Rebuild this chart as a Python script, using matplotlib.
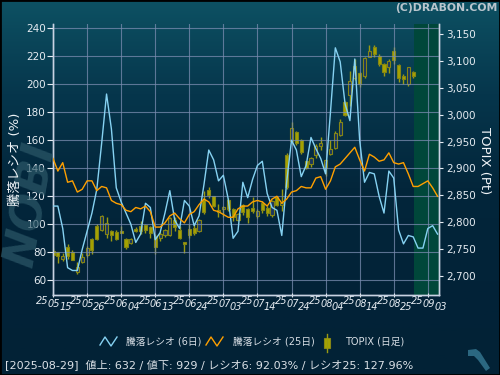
import numpy as np
import matplotlib
matplotlib.use('Agg')
import matplotlib.pyplot as plt
import matplotlib.transforms as mtransforms
from matplotlib.patches import Rectangle, Polygon
from matplotlib.lines import Line2D
from matplotlib.colors import LinearSegmentedColormap

plt.rcParams['font.family'] = ['DejaVu Sans', 'Noto Sans CJK JP']

# 騰落レシオ (6日 / 25日), one value per trading day from 25/05/15
ratio6 = [113, 113, 97, 69, 67, 67, 82, 95, 108, 125, 158, 193, 168, 126, 116, 108,
          100, 87, 93, 115, 112, 89, 94, 108, 124, 103, 97, 117, 113, 99, 106, 128,
          153, 146, 131, 135, 118, 90, 95, 130, 119, 132, 142, 145, 122, 112, 110, 92,
          130, 160, 153, 134, 142, 162, 154, 147, 136, 180, 226, 216, 186, 174, 218, 160,
          130, 137, 136, 120, 108, 138, 133, 96, 86, 92, 91, 83, 83, 97, 99, 93]
ratio25 = [147, 138, 144, 130, 131, 123, 125, 131, 131, 124, 127, 126, 117, 115, 114, 110,
           109, 112, 111, 113, 109, 98, 98, 101, 106, 108, 104, 101, 107, 109, 114, 118,
           116, 110, 109, 107, 105, 105, 111, 113, 113, 116, 117, 116, 113, 118, 120, 115,
           118, 123, 124, 127, 126, 126, 133, 134, 125, 131, 141, 143, 147, 151, 155, 146,
           138, 150, 148, 145, 146, 151, 144, 143, 144, 136, 127, 127, 129, 131, 126, 120]

# TOPIX daily candles
t_open = [2746, 2744, 2731, 2754, 2745, 2706, 2725, 2739, 2768, 2793, 2786, 2778, 2784, 2782, 2784,
          2768, 2761, 2787, 2793, 2794, 2790, 2774, 2771, 2775, 2775, 2804, 2785, 2762, 2787, 2789,
          2783, 2841, 2860, 2848, 2819, 2824, 2841, 2825, 2804, 2832, 2824, 2826, 2812, 2835, 2826,
          2814, 2847, 2832, 2925, 2951, 2967, 2953, 2913, 2909, 2925, 2942, 2900, 2926, 2938, 2962,
          3023, 3036, 3069, 3077, 3072, 3108, 3126, 3110, 3094, 3088, 3118, 3092, 3072, 3058, 3080]
t_high = [2751, 2745, 2742, 2759, 2747, 2725, 2742, 2756, 2771, 2797, 2814, 2810, 2785, 2785, 2793,
          2771, 2771, 2790, 2802, 2797, 2793, 2778, 2781, 2787, 2809, 2809, 2793, 2763, 2797, 2796,
          2806, 2858, 2866, 2849, 2833, 2829, 2845, 2827, 2816, 2834, 2826, 2846, 2824, 2840, 2830,
          2841, 2849, 2861, 2928, 2986, 2970, 2955, 2914, 2922, 2945, 2959, 2917, 2953, 2970, 2992,
          3025, 3082, 3103, 3079, 3107, 3130, 3130, 3114, 3097, 3103, 3126, 3094, 3076, 3089, 3082]
t_low = [2731, 2723, 2727, 2731, 2729, 2704, 2724, 2735, 2740, 2766, 2784, 2771, 2764, 2766, 2779,
         2750, 2759, 2781, 2778, 2779, 2771, 2740, 2764, 2773, 2774, 2784, 2768, 2743, 2771, 2776,
         2781, 2815, 2845, 2828, 2810, 2809, 2821, 2802, 2802, 2814, 2799, 2816, 2807, 2816, 2812,
         2810, 2830, 2820, 2861, 2946, 2944, 2927, 2898, 2903, 2920, 2934, 2886, 2925, 2936, 2961,
         2998, 3017, 3064, 3052, 3069, 3107, 3107, 3091, 3072, 3077, 3095, 3060, 3058, 3054, 3069]
t_close = [2739, 2737, 2737, 2736, 2730, 2717, 2735, 2752, 2748, 2768, 2812, 2799, 2775, 2768, 2780,
           2754, 2768, 2784, 2784, 2785, 2779, 2754, 2778, 2785, 2807, 2790, 2770, 2759, 2776, 2779,
           2804, 2818, 2851, 2830, 2823, 2828, 2824, 2809, 2815, 2818, 2810, 2821, 2821, 2822, 2817,
           2840, 2832, 2836, 2866, 2976, 2948, 2930, 2901, 2919, 2942, 2947, 2915, 2936, 2965, 2986,
           2999, 3063, 3090, 3057, 3105, 3119, 3113, 3095, 3080, 3100, 3102, 3069, 3066, 3088, 3072]

tick_pos = [0, 7, 14, 21, 28, 35, 42, 49, 56, 63, 70, 77]
tick_labels = ['25/05/15', '25/05/26', '25/06/04', '25/06/13', '25/06/24', '25/07/03',
               '25/07/14', '25/07/24', '25/08/04', '25/08/14', '25/08/25', '25/09/03']

status = '[2025-08-29]  値上: 632 / 値下: 929 / レシオ6: 92.03% / レシオ25: 127.96%'

W, H = 500, 375
fig = plt.figure(figsize=(5, 3.75), dpi=100)

def fpx(x, y):
    return x / W, 1 - y / H

# background gradient
bg = fig.add_axes([0, 0, 1, 1], zorder=-10)
grad = np.linspace(0, 1, 256).reshape(-1, 1)
cmap = LinearSegmentedColormap.from_list('bg', ['#0d5163', '#06364c', '#03263b', '#022338', '#022236'])
bg.imshow(grad, aspect='auto', cmap=cmap, extent=[0, 1, 0, 1], origin='upper')
bg.set_xlim(0, 1)
bg.set_ylim(0, 1)
bg.axis('off')

# faint logo at left
fig.text(*fpx(31, 205), 'NOBI', rotation=80, fontsize=32, weight='bold', style='italic',
         color='#2c5868', ha='center', va='center', alpha=0.7)

rect = [53 / W, 1 - 295 / H, (439 - 53) / W, (295 - 24) / H]
ax = fig.add_axes(rect)
ax2 = ax.twinx()
ax.set_zorder(3)
ax2.set_zorder(2)
ax.patch.set_visible(False)
ax2.patch.set_facecolor('#1b3660')

n = len(ratio6)
ax.set_xlim(0, 79.3)
ax.set_ylim(49.5, 243)
ax2.set_ylim(2664, 3169)

# future zone
ax2.axvspan(74.2, 80, color='#00473a', zorder=0, lw=0)

# candles
up_col = '#a6a400'
edge_col = '#858515'
for i in range(len(t_open)):
    o, h, l, c = t_open[i], t_high[i], t_low[i], t_close[i]
    ax2.vlines(i, l, h, color='#9a9a12', lw=1, zorder=3)
    lo, hi = min(o, c), max(o, c)
    if hi - lo < 2:
        hi = lo + 2
    filled = c < o
    ax2.add_patch(Rectangle((i - 0.32, lo), 0.64, hi - lo,
                            facecolor=up_col if filled else '#1b3660',
                            edgecolor=edge_col, lw=0.8, zorder=4))

# ratio lines
x = np.arange(n)
ax.plot(x, ratio6, color='#86d2f2', lw=1.0, zorder=5)
ax.plot(x, ratio25, color='#ffa000', lw=1.0, zorder=5)

# grid / ticks
ax.set_xticks(tick_pos)
ax.set_yticks(range(60, 241, 20))
ax.grid(True, color='#7a8cb0', lw=0.8, alpha=0.75)
ax2.grid(False)
ax2.set_yticks(range(2700, 3151, 50))
ax2.set_yticklabels([f'{v:,}' for v in range(2700, 3151, 50)])

tcol = '#e6ecf2'
ax.tick_params(axis='y', colors=tcol, labelsize=7.5, length=4, width=0.8, pad=1)
ax.tick_params(axis='x', colors=tcol, length=3, width=0.8, direction='inout', labelbottom=False)
ax2.tick_params(axis='y', colors=tcol, labelsize=7.5, length=3, width=0.8, pad=2)

for a in (ax, ax2):
    a.spines['top'].set_visible(False)
    for s in ('left', 'right', 'bottom'):
        a.spines[s].set_color('#c8d2e2')
        a.spines[s].set_linewidth(1.0)

# staggered date labels
base = ax.get_xaxis_transform()
for p, lab in zip(tick_pos, tick_labels):
    parts = lab.split('/')
    for (dx, dy), s in zip([(-10.5, -1), (1, -4), (12.5, -7)], parts):
        tr = base + mtransforms.ScaledTranslation(dx / 100, dy / 100, fig.dpi_scale_trans)
        ax.text(p, 0, s, transform=tr, ha='center', va='top', fontsize=7,
                style='italic', color=tcol, clip_on=False)

# axis titles
fig.text(*fpx(15, 159), '騰落レシオ (%)', rotation=90, ha='center', va='center',
         fontsize=9.5, color='#f0f4f8')
fig.text(*fpx(485, 161), 'TOPIX (Pt)', rotation=270, ha='center', va='center',
         fontsize=9.5, color='#f0f4f8')

# copyright
fig.text(*fpx(497, 8), '(C)DRABON.COM', ha='right', va='center', fontsize=7.8,
         weight='bold', color='#b9c5cd')

# legend
lcol = '#d6dde4'
zig_x = np.array([0, 5, 11, 17])
zig_y = np.array([345, 337, 346, 337])
for x0, col in ((100, '#86d2f2'), (206, '#ffa000')):
    xs, ys = fpx(x0 + zig_x, zig_y)
    fig.add_artist(Line2D(xs, ys, color=col, lw=1.0, transform=fig.transFigure))
fig.text(*fpx(126, 341), '騰落レシオ (6日)', ha='left', va='center', fontsize=7, color=lcol)
fig.text(*fpx(233, 341), '騰落レシオ (25日)', ha='left', va='center', fontsize=7, color=lcol)
xs, ys = fpx(np.array([327, 327]), np.array([334, 352]))
fig.add_artist(Line2D(xs, ys, color='#9a9a12', lw=1.0, transform=fig.transFigure))
fig.add_artist(Rectangle(fpx(324, 348), 6 / W, 10 / H, transform=fig.transFigure,
                         facecolor=up_col, edgecolor=edge_col, lw=0.8))
fig.text(*fpx(345, 341), 'TOPIX (日足)', ha='left', va='center', fontsize=7, color=lcol)

# status line
fig.text(*fpx(5, 365), status, ha='left', va='center', fontsize=8, color='#dbe1e7')

# small logo bottom right
lx = np.array([468, 476, 480, 490, 486, 478, 474, 468])
ly = np.array([350, 349, 352, 368, 371, 360, 356, 356])
fig.add_artist(Polygon(np.column_stack(fpx(lx, ly)), closed=True, transform=fig.transFigure,
                       facecolor='#2b6780', edgecolor='none'))

# frame
fig.add_artist(Rectangle((0, 0), 1, 1, transform=fig.transFigure, fill=False,
                         edgecolor='black', lw=2))

fig.savefig('out.png', dpi=100)
